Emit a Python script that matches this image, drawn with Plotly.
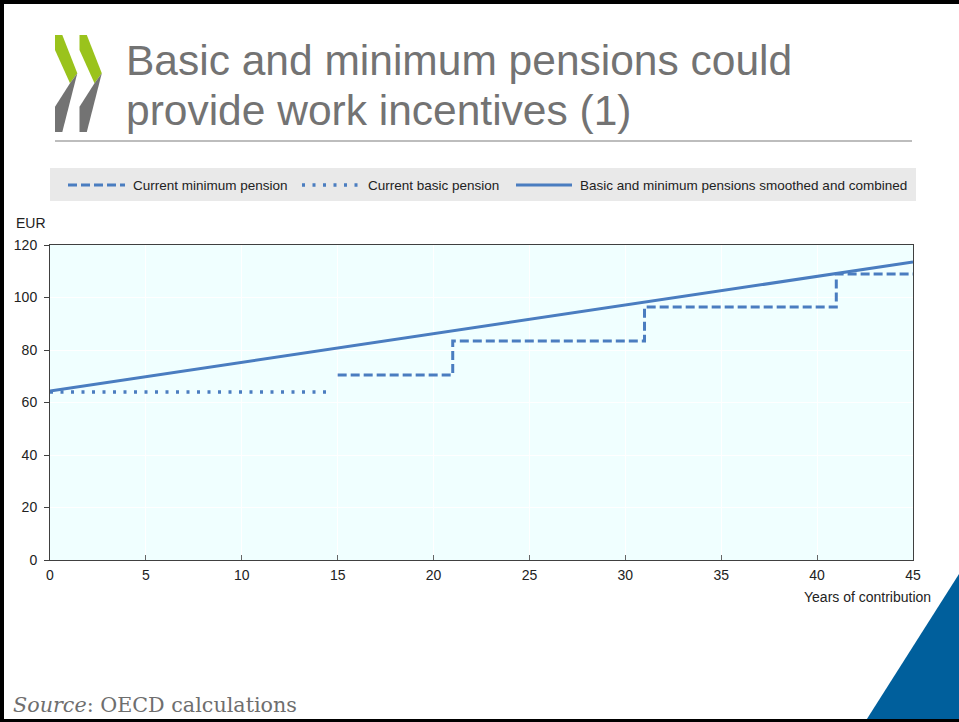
import plotly.graph_objects as go

# ---- data ----
years_smoothed = [0, 45]
smoothed_combined = [64.4, 113.5]

years_basic = [0, 14.5]
basic_pension = [64.0, 64.0]

years_minimum = [15, 21, 31, 41, 45]
minimum_pension = [70.5, 83.4, 96.4, 109.0, 109.0]

x_ticks = [0, 5, 10, 15, 20, 25, 30, 35, 40, 45]
y_ticks = [0, 20, 40, 60, 80, 100, 120]

legend_labels = ["Current minimum pension", "Current basic pension",
                 "Basic and minimum pensions smoothed and combined"]

# ---- layout geometry (pixels) ----
W, H = 959, 722
L, R, T, B = 50, 913, 245, 560

def px(x):
    return (x - L) / (R - L)

def py(y):
    return (B - y) / (B - T)

BLUE = "#4a7dc0"
SANS = "Liberation Sans, Arial, sans-serif"
TXT = "#222222"

fig = go.Figure()
fig.add_trace(go.Scatter(x=years_smoothed, y=smoothed_combined, mode="lines",
                         line=dict(color=BLUE, width=3), name=legend_labels[2],
                         showlegend=False, hoverinfo="skip"))
fig.add_trace(go.Scatter(x=years_basic, y=basic_pension, mode="lines",
                         line=dict(color=BLUE, width=3.5, dash="3px,7.5px"),
                         name=legend_labels[1], showlegend=False, hoverinfo="skip"))
fig.add_trace(go.Scatter(x=years_minimum, y=minimum_pension, mode="lines",
                         line=dict(color=BLUE, width=3, dash="9px,4px", shape="hv"),
                         name=legend_labels[0], showlegend=False, hoverinfo="skip"))

shapes = []
annotations = []

# blue triangle bottom right
shapes.append(dict(type="path", xref="paper", yref="paper",
                   path=f"M {px(865)} {py(722)} L {px(959)} {py(574)} L {px(959)} {py(722)} Z",
                   fillcolor="#005f9c", line=dict(width=0), layer="above"))
# black slide border (left, top, bottom)
for (x0, y0, x1, y1) in [(0, 0, 4, 722), (0, 0, 959, 4), (0, 719, 959, 722)]:
    shapes.append(dict(type="rect", xref="paper", yref="paper",
                       x0=px(x0), x1=px(x1), y0=py(y1), y1=py(y0),
                       fillcolor="black", line=dict(width=0), layer="above"))

# OECD logo chevrons
GREEN = "#9ac31c"
GREY = "#737373"
green_pts = [(55, 35), (62.3, 35), (77.3, 73.3), (70, 83.3), (55, 50)]
grey_pts = [(70, 83.3), (77.3, 73.3), (62.3, 132), (55, 132), (55, 106.7)]
for dx in [0, 24.5]:
    for pts, col in [(green_pts, GREEN), (grey_pts, GREY)]:
        path = "M " + " L ".join(f"{px(x + dx)} {py(y)}" for x, y in pts) + " Z"
        shapes.append(dict(type="path", xref="paper", yref="paper", path=path,
                           fillcolor=col, line=dict(width=0), layer="above"))

# title rule
shapes.append(dict(type="line", xref="paper", yref="paper",
                   x0=px(55), x1=px(912), y0=py(141), y1=py(141),
                   line=dict(color="#bdbdbd", width=2)))

# legend box
shapes.append(dict(type="rect", xref="paper", yref="paper",
                   x0=px(50), x1=px(916), y0=py(201), y1=py(168),
                   fillcolor="#e9e9e9", line=dict(width=0), layer="below"))
legend_samples = [
    ((68, 125), "9px,4px", 3, 131),
    ((302, 360), "3px,7.5px", 3.5, 366),
    ((516, 572), "solid", 3, 578),
]
for (sx, dash, lw, tx), label in zip(legend_samples, legend_labels):
    shapes.append(dict(type="line", xref="paper", yref="paper",
                       x0=px(sx[0]), x1=px(sx[1]), y0=py(185), y1=py(185),
                       line=dict(color=BLUE, width=lw, dash=dash)))
    annotations.append(dict(xref="paper", yref="paper", x=px(tx), y=py(185),
                            text=label, showarrow=False, xanchor="left", yanchor="middle",
                            font=dict(family=SANS, size=13.5, color=TXT)))

# title
for text, yc in [("Basic and minimum pensions could", 60),
                 ("provide work incentives (1)", 110)]:
    annotations.append(dict(xref="paper", yref="paper", x=px(124), y=py(yc),
                            text=text, showarrow=False, xanchor="left", yanchor="middle",
                            font=dict(family=SANS, size=42.5, color="#737373")))

# axis labels
annotations.append(dict(xref="paper", yref="paper", x=px(14), y=py(223),
                        text="EUR", showarrow=False, xanchor="left", yanchor="middle",
                        font=dict(family=SANS, size=14, color=TXT)))
annotations.append(dict(xref="paper", yref="paper", x=px(933), y=py(597),
                        text="Years of contribution", showarrow=False,
                        xanchor="right", yanchor="middle",
                        font=dict(family=SANS, size=14, color=TXT)))

# source
annotations.append(dict(xref="paper", yref="paper", x=px(11), y=py(705),
                        text="<i>Source</i>: OECD calculations", showarrow=False,
                        xanchor="left", yanchor="middle",
                        font=dict(family="DejaVu Serif, Georgia, serif", size=20.7, color="#6e6e6e")))

fig.update_layout(
    width=W, height=H,
    margin=dict(l=L, r=W - R, t=T, b=H - B, pad=0),
    paper_bgcolor="white",
    plot_bgcolor="#f0ffff",
    shapes=shapes,
    annotations=annotations,
    showlegend=False,
    xaxis=dict(range=[0, 45], tickvals=x_ticks, ticks="inside", ticklen=5,
               tickcolor="#666666", showline=True, linecolor="#404040", linewidth=1,
               mirror=True, showgrid=True, gridcolor="white", gridwidth=1,
               zeroline=False, ticklabelstandoff=2,
               tickfont=dict(family=SANS, size=14, color=TXT)),
    yaxis=dict(range=[0, 120], tickvals=y_ticks, ticks="outside", ticklen=5,
               tickcolor="#404040", showline=True, linecolor="#404040", linewidth=1,
               mirror=True, showgrid=True, gridcolor="white", gridwidth=1,
               zeroline=False, ticklabelstandoff=4,
               tickfont=dict(family=SANS, size=14, color=TXT)),
)

fig.write_html("out.html")
